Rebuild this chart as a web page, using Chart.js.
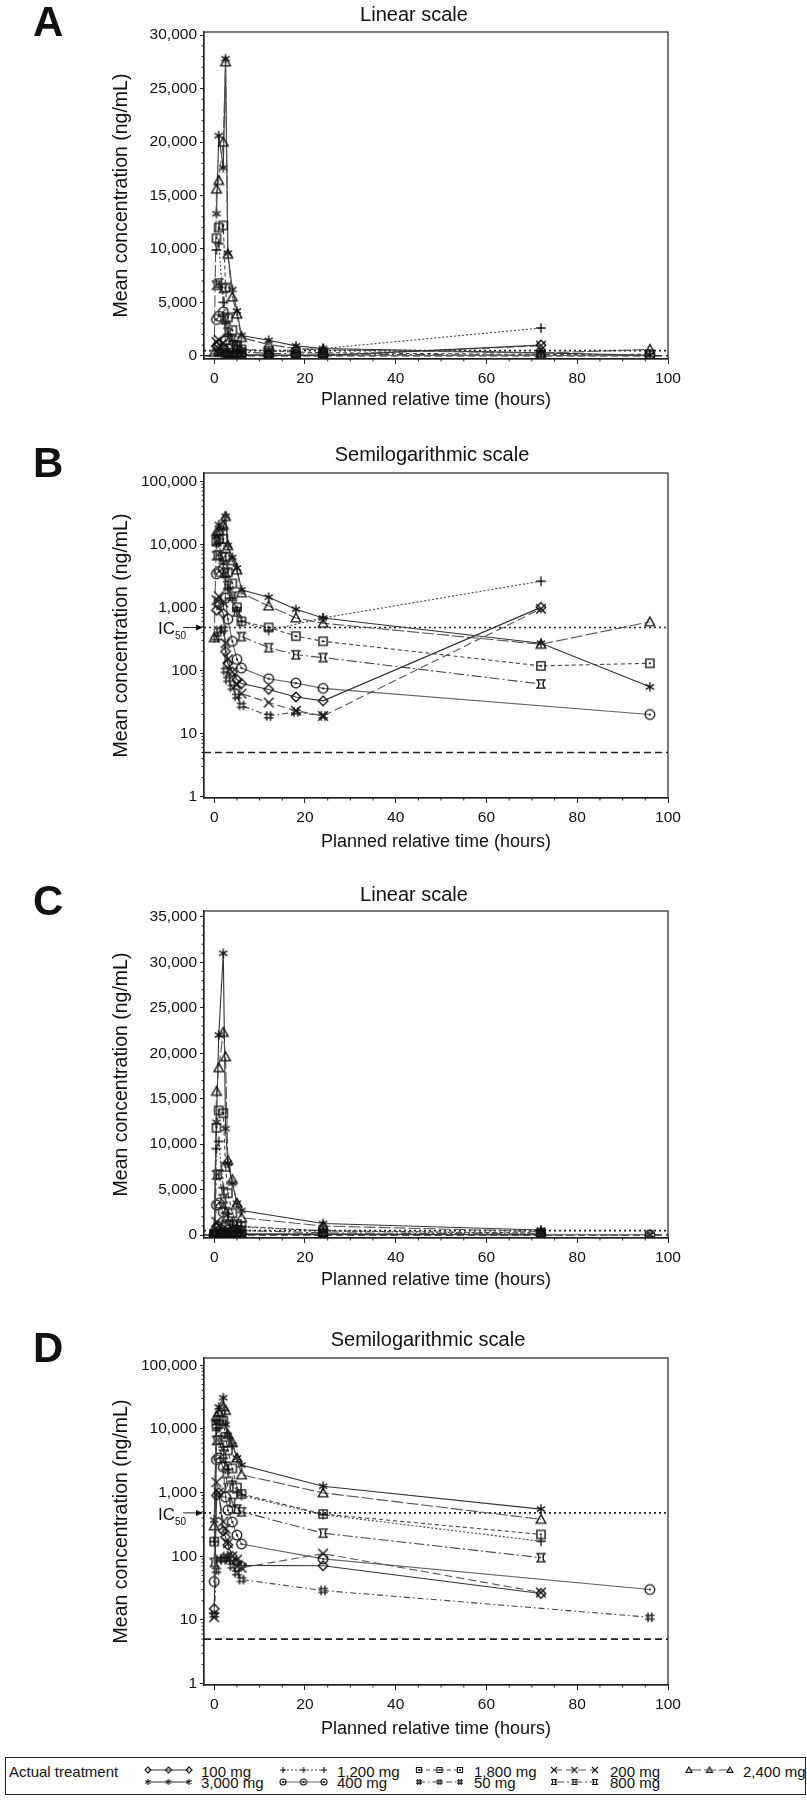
<!DOCTYPE html>
<html>
<head>
<meta charset="utf-8">
<script src="https://cdn.jsdelivr.net/npm/chart.js@4.4.1/dist/chart.umd.min.js"></script>
<style>
  body { margin: 0; background: #fff; width: 807px; height: 1800px; position: relative; overflow: hidden;
         font-family: "Liberation Sans", Arial, sans-serif; color: #111; }
  canvas.panel { position: absolute; left: 0; }
  #legend { position: absolute; left: 5px; top: 1757px; width: 801px; height: 38px; border: 1px solid #222; box-sizing: border-box; }
  #legend span { position: absolute; font-size: 15px; line-height: 15px; white-space: nowrap; }
  #legend canvas { position: absolute; }
</style>
</head>
<body>
<canvas id="panelA" class="panel" width="807" height="420" style="top:0px"></canvas>
<canvas id="panelB" class="panel" width="807" height="440" style="top:420px"></canvas>
<canvas id="panelC" class="panel" width="807" height="440" style="top:860px"></canvas>
<canvas id="panelD" class="panel" width="807" height="440" style="top:1300px"></canvas>
<div id="legend"></div>

<script>
// doses, in legend order (row by row)
const doseLabels = ["100 mg", "1,200 mg", "1,800 mg", "200 mg", "2,400 mg", "3,000 mg", "400 mg", "50 mg", "800 mg"];

// panels A and B: planned times (hours) and mean concentrations (ng/mL)
const timesAB = [0, 0.5, 1, 2, 2.5, 3, 4, 5, 6, 12, 18, 24, 72, 96];
const ab100  = [null, 900, 1100, 800, 200, 130, 95, 72, 62, 50, 38, 33, 1000, null];
const ab1200 = [null, 9900, 10500, 5000, 3000, 2000, 1400, 900, 600, 430, null, 680, 2600, null];
const ab1800 = [null, 11000, 12000, 12200, 6400, 3600, 2400, 1000, 600, 480, 350, 290, 118, 130];
const ab200  = [null, 1300, 1500, 1200, 270, 150, 95, 60, 43, 31, 23, 19, 950, null];
const ab2400 = [330, 15600, 16400, 20000, 27500, 9500, 5500, 3900, 1700, 1050, 680, 560, 260, 590];
const ab3000 = [null, 13300, 20600, 17600, 27800, 9600, 6200, 4200, 1900, 1450, 930, 680, 270, 55];
const ab400  = [null, 3400, 3700, 4100, 1400, 650, 290, 150, 109, 74, 63, 52, null, 20];
const ab50   = [null, 330, 430, 450, 100, 72, 54, 39, 28, 19, 22, 19, null, null];
const ab800  = [null, 6600, 6800, 6300, 3500, 2200, 1500, 850, 345, 230, 177, 160, 61, null];

// panels C and D
const timesCD = [0, 0.5, 1, 2, 2.5, 3, 4, 5, 6, 24, 72, 96];
const cd100  = [15, 900, 1000, 250, 200, 150, 100, 80, 72, 71, 26, null];
const cd1200 = [170, 9500, 10300, 5200, 3000, 2300, 1500, 1000, 900, 450, 172, null];
const cd1800 = [170, 11800, 13700, 13400, 7500, 4600, 2400, 1200, 950, 460, 220, null];
const cd200  = [11, 1450, 1000, 350, 270, 160, 100, 88, 66, 110, 27, null];
const cd2400 = [300, 15800, 18400, 22300, 19600, 8200, 6100, 3500, 1900, 990, 380, null];
const cd3000 = [370, 12400, 22000, 31000, 11700, 7900, 5700, 3500, 2700, 1260, 550, null];
const cd400  = [40, 3300, 3500, 2500, 850, 530, 345, 215, 156, 91, null, 30];
const cd50   = [12, 60, 90, 88, 100, 90, 70, 55, 43, 29, null, 11];
const cd800  = [80, 6600, 6700, 4000, 2000, 1200, 700, 550, 500, 230, 95, null];

// reference lines (ng/mL): IC50 and lower limit of quantification
const ic50Line = [480];
const lloqLine = [5];

// axis ticks
const xTicks = [0, 20, 40, 60, 80, 100];
const yTicksA = [0, 5000, 10000, 15000, 20000, 25000, 30000];
const yTicksC = [0, 5000, 10000, 15000, 20000, 25000, 30000, 35000];
const yTicksLog = [1, 10, 100, 1000, 10000, 100000];

const abValues = [ab100, ab1200, ab1800, ab200, ab2400, ab3000, ab400, ab50, ab800];
const cdValues = [cd100, cd1200, cd1800, cd200, cd2400, cd3000, cd400, cd50, cd800];

// marker + line style per dose (same order as doseLabels)
const doseStyles = [
  { marker: "diamond",   color: "#333", dash: [] },
  { marker: "plus",      color: "#444", dash: [2, 2] },
  { marker: "squareDot", color: "#444", dash: [4, 3] },
  { marker: "x",         color: "#555", dash: [8, 4] },
  { marker: "triangle",  color: "#555", dash: [12, 3] },
  { marker: "asterisk",  color: "#333", dash: [] },
  { marker: "circleDot", color: "#666", dash: [] },
  { marker: "hash",      color: "#444", dash: [6, 3, 1.5, 3] },
  { marker: "flared",    color: "#444", dash: [10, 3, 2, 3] }
];

const FONT = '"Liberation Sans", Arial, sans-serif';
const xMin = -2.25, xMax = 100;

// draws one open marker symbol into a small canvas, used as a pointStyle
function makeMarker(kind, s, lw) {
  const d = Math.ceil(2 * s + 4);
  const c = document.createElement("canvas");
  c.width = d; c.height = d;
  const g = c.getContext("2d");
  const m = d / 2;
  g.strokeStyle = "#111";
  g.fillStyle = "#111";
  g.lineWidth = lw;
  g.beginPath();
  if (kind === "diamond") {
    g.moveTo(m, m - s); g.lineTo(m + s, m); g.lineTo(m, m + s); g.lineTo(m - s, m); g.closePath();
  } else if (kind === "plus") {
    g.moveTo(m - s, m); g.lineTo(m + s, m); g.moveTo(m, m - s); g.lineTo(m, m + s);
  } else if (kind === "squareDot") {
    g.rect(m - s * 0.85, m - s * 0.85, s * 1.7, s * 1.7);
  } else if (kind === "x") {
    g.moveTo(m - s, m - s); g.lineTo(m + s, m + s); g.moveTo(m + s, m - s); g.lineTo(m - s, m + s);
  } else if (kind === "triangle") {
    g.moveTo(m, m - s); g.lineTo(m + s, m + s * 0.8); g.lineTo(m - s, m + s * 0.8); g.closePath();
  } else if (kind === "asterisk") {
    [90, 30, 150].forEach(a => {
      const r = a * Math.PI / 180;
      g.moveTo(m - s * Math.cos(r), m - s * Math.sin(r));
      g.lineTo(m + s * Math.cos(r), m + s * Math.sin(r));
    });
  } else if (kind === "circleDot") {
    g.arc(m, m, s, 0, Math.PI * 2);
  } else if (kind === "hash") {
    const k = s * 0.4;
    g.moveTo(m - k, m - s); g.lineTo(m - k, m + s);
    g.moveTo(m + k, m - s); g.lineTo(m + k, m + s);
    g.moveTo(m - s, m - k); g.lineTo(m + s, m - k);
    g.moveTo(m - s, m + k); g.lineTo(m + s, m + k);
  } else if (kind === "flared") {
    const h = s * 0.85;
    g.moveTo(m - s, m - h); g.lineTo(m + s, m - h);
    g.moveTo(m - s, m + h); g.lineTo(m + s, m + h);
    g.moveTo(m - s * 0.75, m - h); g.quadraticCurveTo(m - s * 0.1, m, m - s * 0.75, m + h);
    g.moveTo(m + s * 0.75, m - h); g.quadraticCurveTo(m + s * 0.1, m, m + s * 0.75, m + h);
  }
  g.stroke();
  if (kind === "squareDot" || kind === "circleDot") {
    g.fillRect(m - 0.9, m - 0.9, 1.8, 1.8);
  }
  return c;
}

const plotMarkers = doseStyles.map(st => makeMarker(st.marker, 4.8, 1.35));

function seriesData(times, values) {
  const pts = [];
  times.forEach((t, i) => {
    if (values[i] !== null) pts.push({ x: t, y: values[i] });
  });
  return pts;
}

function refLine(value, dash, width) {
  return {
    data: [{ x: xMin, y: value }, { x: xMax, y: value }],
    borderColor: "#222",
    borderWidth: width,
    borderDash: dash,
    pointRadius: 0,
    fill: false
  };
}

// frame, minor ticks, panel letter, title and IC50 label
function makeDecor(spec) {
  return {
    id: "decor" + spec.letter,
    afterDraw(chart) {
      const { ctx, chartArea: a, scales: { x, y } } = chart;
      ctx.save();
      ctx.strokeStyle = "#222";
      ctx.lineWidth = 1.2;
      ctx.strokeRect(a.left, a.top, a.right - a.left, a.bottom - a.top);

      ctx.lineWidth = 1;
      ctx.beginPath();
      spec.yMinor.forEach(v => {
        const p = y.getPixelForValue(v);
        if (p >= a.top && p <= a.bottom) { ctx.moveTo(a.left, p); ctx.lineTo(a.left - 2.5, p); }
      });
      spec.xMinor.forEach(v => {
        const p = x.getPixelForValue(v);
        ctx.moveTo(p, a.bottom); ctx.lineTo(p, a.bottom + 2.5);
      });
      ctx.stroke();

      ctx.fillStyle = "#111";
      ctx.font = "bold 42px " + FONT;
      ctx.textAlign = "left";
      ctx.textBaseline = "alphabetic";
      ctx.fillText(spec.letter, 33, spec.letterY);

      ctx.font = "20px " + FONT;
      ctx.textAlign = "center";
      ctx.textBaseline = "middle";
      ctx.fillText(spec.title, spec.titleX, spec.titleY);

      if (spec.log) {
        const p = y.getPixelForValue(ic50Line[0]);
        ctx.textAlign = "left";
        ctx.textBaseline = "alphabetic";
        ctx.font = "17px " + FONT;
        ctx.fillText("IC", 158, p + 7);
        ctx.font = "10px " + FONT;
        ctx.fillText("50", 175, p + 12);
        ctx.beginPath();
        ctx.moveTo(183, p); ctx.lineTo(a.left - 2, p);
        ctx.stroke();
        ctx.beginPath();
        ctx.moveTo(a.left - 1, p); ctx.lineTo(a.left - 8, p - 3); ctx.lineTo(a.left - 8, p + 3);
        ctx.closePath();
        ctx.fill();
      }
      ctx.restore();
    }
  };
}

function fmt(v) {
  return Number(v).toLocaleString("en-US");
}

function buildPanel(spec) {
  const datasets = spec.values.map((vals, i) => ({
    label: doseLabels[i],
    data: seriesData(spec.times, vals),
    borderColor: doseStyles[i].color,
    borderWidth: 1.1,
    borderDash: doseStyles[i].dash,
    pointStyle: plotMarkers[i],
    pointRadius: 4.8,
    tension: 0,
    fill: false
  }));
  datasets.push(refLine(ic50Line[0], [2, 3], 1.6));
  datasets.push(refLine(lloqLine[0], [7, 4], 1.6));

  const yTicks = spec.yTicks;
  const xMinor = [];
  for (let t = 5; t < 100; t += 5) if (t % 20 !== 0) xMinor.push(t);
  spec.xMinor = xMinor;

  const ctx = document.getElementById(spec.canvas).getContext("2d");
  return new Chart(ctx, {
    type: "line",
    data: { datasets: datasets },
    options: {
      responsive: false,
      animation: false,
      layout: {
        autoPadding: false,
        padding: { top: spec.areaTop, bottom: spec.height - spec.areaBottom - spec.xH, left: 110, right: 139 }
      },
      plugins: { legend: { display: false }, tooltip: { enabled: false } },
      scales: {
        x: {
          type: "linear",
          min: xMin,
          max: xMax,
          afterBuildTicks: s => { s.ticks = xTicks.map(v => ({ value: v })); },
          afterFit: s => { s.height = spec.xH; },
          ticks: { color: "#111", font: { family: FONT, size: 15.5 }, padding: 5, maxRotation: 0,
                   callback: v => fmt(v) },
          grid: { drawOnChartArea: false, drawTicks: true, tickLength: 5, tickColor: "#222" },
          border: { display: true, color: "#222", width: 1.2 },
          title: { display: true, text: "Planned relative time (hours)", color: "#111",
                   font: { family: FONT, size: 18 }, padding: 0 }
        },
        y: {
          type: spec.log ? "logarithmic" : "linear",
          min: spec.yMin,
          max: spec.yMax,
          afterBuildTicks: s => { s.ticks = yTicks.map(v => ({ value: v })); },
          afterFit: s => { s.width = 94; },
          ticks: { color: "#111", font: { family: FONT, size: 15.5 }, padding: 3, callback: v => fmt(v) },
          grid: { drawOnChartArea: false, drawTicks: true, tickLength: 4, tickColor: "#222" },
          border: { display: true, color: "#222", width: 1.2 },
          title: { display: true, text: "Mean concentration (ng/mL)", color: "#111",
                   font: { family: FONT, size: 19.5 }, padding: 0 }
        }
      }
    },
    plugins: [makeDecor(spec)]
  });
}

function linearMinor(max) {
  const out = [];
  for (let v = 1000; v <= max; v += 1000) if (v % 5000 !== 0) out.push(v);
  return out;
}
function logMinor() {
  const out = [];
  for (let d = 1; d <= 100000; d *= 10) for (let k = 2; k <= 9; k++) out.push(d * k);
  return out;
}

buildPanel({ canvas: "panelA", letter: "A", letterY: 36, title: "Linear scale", titleX: 414, titleY: 15.5,
  height: 420, areaTop: 32, areaBottom: 359, xH: 52, log: false, yMin: -300, yMax: 30300,
  yTicks: yTicksA, yMinor: linearMinor(30000), times: timesAB, values: abValues });

buildPanel({ canvas: "panelB", letter: "B", letterY: 57, title: "Semilogarithmic scale", titleX: 432, titleY: 35,
  height: 440, areaTop: 53, areaBottom: 378, xH: 55, log: true, yMin: 0.95, yMax: 135000,
  yTicks: yTicksLog, yMinor: logMinor(), times: timesAB, values: abValues });

buildPanel({ canvas: "panelC", letter: "C", letterY: 55, title: "Linear scale", titleX: 414, titleY: 35.5,
  height: 440, areaTop: 51, areaBottom: 378, xH: 53, log: false, yMin: -330, yMax: 35650,
  yTicks: yTicksC, yMinor: linearMinor(35000), times: timesCD, values: cdValues });

buildPanel({ canvas: "panelD", letter: "D", letterY: 62, title: "Semilogarithmic scale", titleX: 428, titleY: 40.5,
  height: 440, areaTop: 58, areaBottom: 385, xH: 55, log: true, yMin: 0.95, yMax: 130000,
  yTicks: yTicksLog, yMinor: logMinor(), times: timesCD, values: cdValues });

// legend: two rows of five columns, page coordinates converted to the legend box
function buildLegend() {
  const box = document.getElementById("legend");
  const left = 5, top = 1757;
  const markerStart = [147, 282, 418, 553, 688];
  const textX = [200, 336, 473, 609, 742];
  const rowMid = [1769, 1781];
  const rowBase = [1776, 1787];

  const title = document.createElement("span");
  title.textContent = "Actual treatment";
  title.style.left = (8 - left) + "px";
  title.style.top = (rowBase[0] - 12.7 - top) + "px";
  box.appendChild(title);

  doseLabels.forEach((lab, i) => {
    const row = i < 5 ? 0 : 1;
    const col = i < 5 ? i : i - 5;
    const st = doseStyles[i];
    const cv = document.createElement("canvas");
    cv.width = 52; cv.height = 12;
    cv.style.left = (markerStart[col] - 4 - left) + "px";
    cv.style.top = (rowMid[row] - 6 - top) + "px";
    const g = cv.getContext("2d");
    g.strokeStyle = st.color;
    g.lineWidth = 1;
    g.setLineDash(st.dash);
    g.beginPath(); g.moveTo(4, 6); g.lineTo(45, 6); g.stroke();
    const mk = makeMarker(st.marker, 3, 1.1);
    [4, 24.5, 45].forEach(px => g.drawImage(mk, px - mk.width / 2, 6 - mk.height / 2));
    box.appendChild(cv);

    const sp = document.createElement("span");
    sp.textContent = lab;
    sp.style.left = (textX[col] - left) + "px";
    sp.style.top = (rowBase[row] - 12.7 - top) + "px";
    box.appendChild(sp);
  });
}
buildLegend();
</script>
</body>
</html>
